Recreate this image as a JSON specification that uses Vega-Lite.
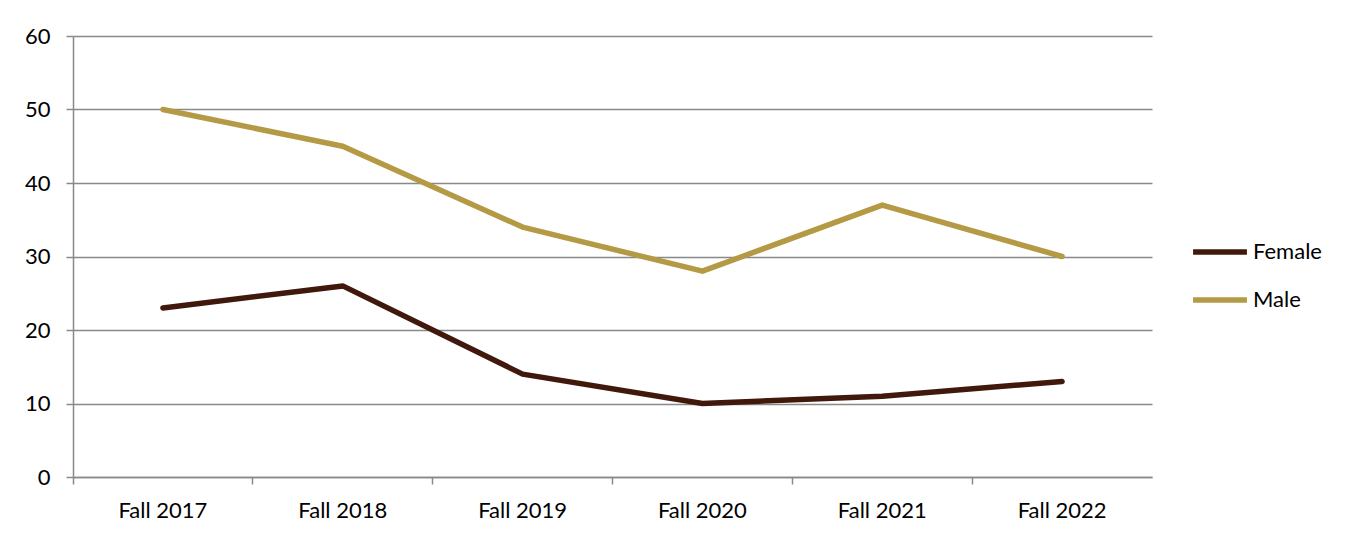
{
  "$schema": "https://vega.github.io/schema/vega-lite/v6.json",
  "autosize": {"type": "none"},
  "padding": {"left": 73, "top": 36, "right": 200, "bottom": 60},
  "width": 1079,
  "height": 441,
  "background": "white",
  "config": {
    "view": {"stroke": null},
    "font": "Lato"
  },
  "data": {
    "values": [
      {"term": "Fall 2017", "gender": "Female", "count": 23},
      {"term": "Fall 2018", "gender": "Female", "count": 26},
      {"term": "Fall 2019", "gender": "Female", "count": 14},
      {"term": "Fall 2020", "gender": "Female", "count": 10},
      {"term": "Fall 2021", "gender": "Female", "count": 11},
      {"term": "Fall 2022", "gender": "Female", "count": 13},
      {"term": "Fall 2017", "gender": "Male", "count": 50},
      {"term": "Fall 2018", "gender": "Male", "count": 45},
      {"term": "Fall 2019", "gender": "Male", "count": 34},
      {"term": "Fall 2020", "gender": "Male", "count": 28},
      {"term": "Fall 2021", "gender": "Male", "count": 37},
      {"term": "Fall 2022", "gender": "Male", "count": 30}
    ]
  },
  "mark": {"type": "line", "strokeWidth": 5.5, "strokeCap": "round", "strokeJoin": "round"},
  "encoding": {
    "x": {
      "field": "term",
      "type": "ordinal",
      "bandPosition": 0.5,
      "scale": {"type": "band", "paddingInner": 0, "paddingOuter": 0},
      "axis": {
        "title": null,
        "labelAngle": 0,
        "bandPosition": 0,
        "labelFontSize": 22,
        "labelColor": "#000000",
        "labelPadding": 16,
        "tickSize": 7,
        "tickColor": "#898989",
        "tickWidth": 1.5,
        "domainColor": "#898989",
        "domainWidth": 1.5,
        "grid": false
      }
    },
    "y": {
      "field": "count",
      "type": "quantitative",
      "scale": {"domain": [0, 60], "nice": false},
      "axis": {
        "title": null,
        "values": [0, 10, 20, 30, 40, 50, 60],
        "labelFontSize": 22,
        "labelColor": "#000000",
        "labelPadding": 16,
        "tickSize": 7,
        "tickColor": "#898989",
        "tickWidth": 1.5,
        "domainColor": "#898989",
        "domainWidth": 1.5,
        "grid": true,
        "gridColor": "#898989",
        "gridWidth": 1.5
      }
    },
    "color": {
      "field": "gender",
      "type": "nominal",
      "scale": {"domain": ["Female", "Male"], "range": ["#41190C", "#B59A45"]},
      "legend": {
        "title": null,
        "orient": "none",
        "legendX": 1117,
        "legendY": 186,
        "symbolType": "stroke",
        "symbolSize": 2900,
        "symbolStrokeWidth": 5.5,
        "labelFontSize": 22,
        "labelColor": "#000000",
        "labelOffset": 3,
        "rowPadding": 7
      }
    }
  }
}
